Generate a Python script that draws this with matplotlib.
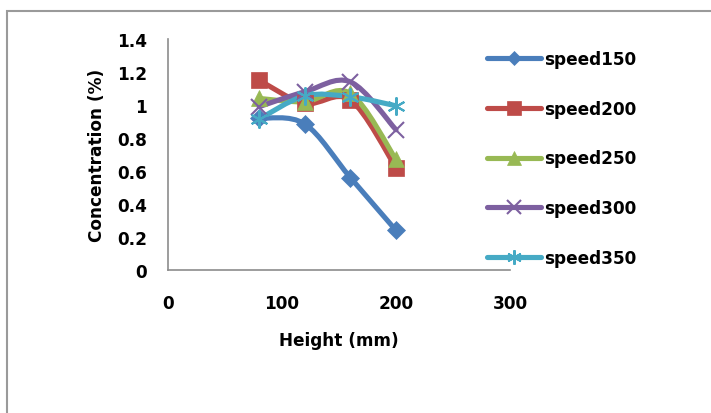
import matplotlib
matplotlib.use("Agg")
import matplotlib.pyplot as plt
from matplotlib.path import Path
from matplotlib.patches import PathPatch, Rectangle
from matplotlib.lines import Line2D
import numpy as np

plt.rcParams['font.family'] = ['DejaVu Sans']
plt.rcParams['font.weight'] = 'bold'

heights = [80, 120, 160, 200]
speed150 = [0.92, 0.885, 0.56, 0.24]
speed200 = [1.15, 1.01, 1.03, 0.62]
speed250 = [1.04, 1.02, 1.07, 0.67]
speed300 = [0.99, 1.08, 1.14, 0.85]
speed350 = [0.915, 1.055, 1.05, 0.995]
series_names = ['speed150', 'speed200', 'speed250', 'speed300', 'speed350']
series_vals = [speed150, speed200, speed250, speed300, speed350]
colors = ['#4A7EBB', '#BE4B48', '#98B954', '#7D60A0', '#46AAC5']
markers = ['D', 's', '^', 'x', '*']
msizes = [9.5, 12, 12, 12, 13]
x_ticks = [0, 100, 200, 300]
y_ticks = [0, 0.2, 0.4, 0.6, 0.8, 1, 1.2, 1.4]
y_ticklabels = ['0', '0.2', '0.4', '0.6', '0.8', '1', '1.2', '1.4']

FS = 12.2

fig = plt.figure(figsize=(7.11, 4.14), dpi=100)
fig.add_artist(Rectangle((7/711, -0.1), 1.2, 1 - 11.5/414 + 0.1, transform=fig.transFigure,
                         fill=False, edgecolor='#9a9a9a', linewidth=1.5))
ax = fig.add_axes([168/711, 1 - 271/414, (510 - 168)/711, (271 - 40)/414])


def smooth_path(xs, ys):
    xs = np.asarray(xs, float); ys = np.asarray(ys, float)
    n = len(xs)
    verts = [(xs[0], ys[0])]
    codes = [Path.MOVETO]
    for i in range(n - 1):
        p0 = i - 1 if i > 0 else i
        p3 = i + 2 if i + 2 < n else i + 1
        c1 = (xs[i] + (xs[i + 1] - xs[p0]) / 6, ys[i] + (ys[i + 1] - ys[p0]) / 6)
        c2 = (xs[i + 1] - (xs[p3] - xs[i]) / 6, ys[i + 1] - (ys[p3] - ys[i]) / 6)
        verts += [c1, c2, (xs[i + 1], ys[i + 1])]
        codes += [Path.CURVE4] * 3
    return Path(verts, codes)


handles = []
for name, vals, c, m, ms in zip(series_names, series_vals, colors, markers, msizes):
    ax.add_patch(PathPatch(smooth_path(heights, vals), facecolor='none', edgecolor=c,
                           linewidth=3.7, capstyle='round', joinstyle='round', zorder=2))
    mew = 1.5 if m in ('x', '*') else 0.5
    mk = (6, 2, 0) if m == '*' else m
    ax.plot(heights, vals, linestyle='none', marker=mk, markersize=ms, color=c,
            markeredgecolor=c, markeredgewidth=mew, zorder=3)
    handles.append(Line2D([0], [0], color=c, linewidth=3.7, solid_capstyle='round',
                          marker=mk, markersize=ms * 0.8, markeredgecolor=c, markerfacecolor=c,
                          markeredgewidth=mew))

ax.set_xlim(0, 300)
ax.set_ylim(0, 1.4)
ax.set_xticks(x_ticks)
ax.set_xticklabels([str(v) for v in x_ticks])
ax.set_yticks(y_ticks)
ax.set_yticklabels(y_ticklabels)
ax.tick_params(axis='both', length=0, labelsize=FS)
ax.tick_params(axis='x', pad=17)
ax.tick_params(axis='y', pad=15)
for s in ['top', 'right']:
    ax.spines[s].set_visible(False)
for s in ['left', 'bottom']:
    ax.spines[s].set_color('#8c8c8c')
    ax.spines[s].set_linewidth(1.2)

ax.set_xlabel('Height (mm)', fontsize=FS, fontweight='bold', labelpad=14)
ax.set_ylabel('Concentration (%)', fontsize=FS, fontweight='bold', labelpad=8)

fig.legend(handles, series_names, loc='upper left', bbox_to_anchor=(480/711, 1 - 44/414),
           frameon=False, prop={'size': FS, 'weight': 'bold'}, handlelength=3.2,
           handletextpad=0.2, labelspacing=1.88, borderaxespad=0)

fig.savefig('out.png', dpi=100)
